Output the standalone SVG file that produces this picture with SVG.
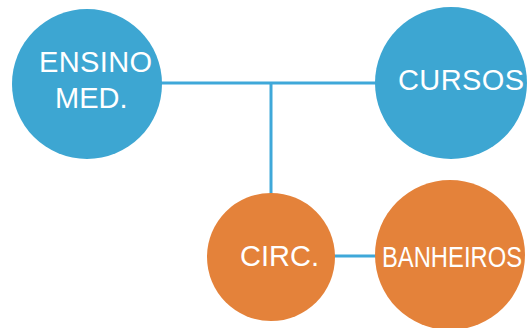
<svg xmlns="http://www.w3.org/2000/svg" width="527" height="328" viewBox="0 0 527 328">
<style>
.blue{fill:#3DA6D2}
.orange{fill:#E4823A}
.lbl{font-family:"Liberation Sans",Arial,sans-serif;font-size:29px;fill:#FFFFFF}
.conn{stroke:#3FA8D9;stroke-width:3;fill:none}
</style>
<rect width="527" height="328" fill="#FFFFFF"/>
<g id="connectors">
<path class="conn" d="M160 83 H378"/>
<path class="conn" d="M271 83 V196"/>
<path class="conn" d="M333 256 H378"/>
</g>
<g id="ensino">
<circle class="blue" cx="87" cy="84" r="75"/>
<text class="lbl" x="39" y="72" textLength="113">ENSINO</text>
<text class="lbl" x="55" y="108">MED.</text>
</g>
<g id="cursos">
<circle class="blue" cx="451" cy="83" r="76"/>
<text class="lbl" x="398" y="90" textLength="126">CURSOS</text>
</g>
<g id="circ">
<circle class="orange" cx="271" cy="257" r="64"/>
<text class="lbl" x="240" y="266">CIRC.</text>
</g>
<g id="banheiros">
<circle class="orange" cx="450" cy="255" r="75"/>
<text class="lbl" x="382" y="267" textLength="140" lengthAdjust="spacingAndGlyphs">BANHEIROS</text>
</g>
</svg>
